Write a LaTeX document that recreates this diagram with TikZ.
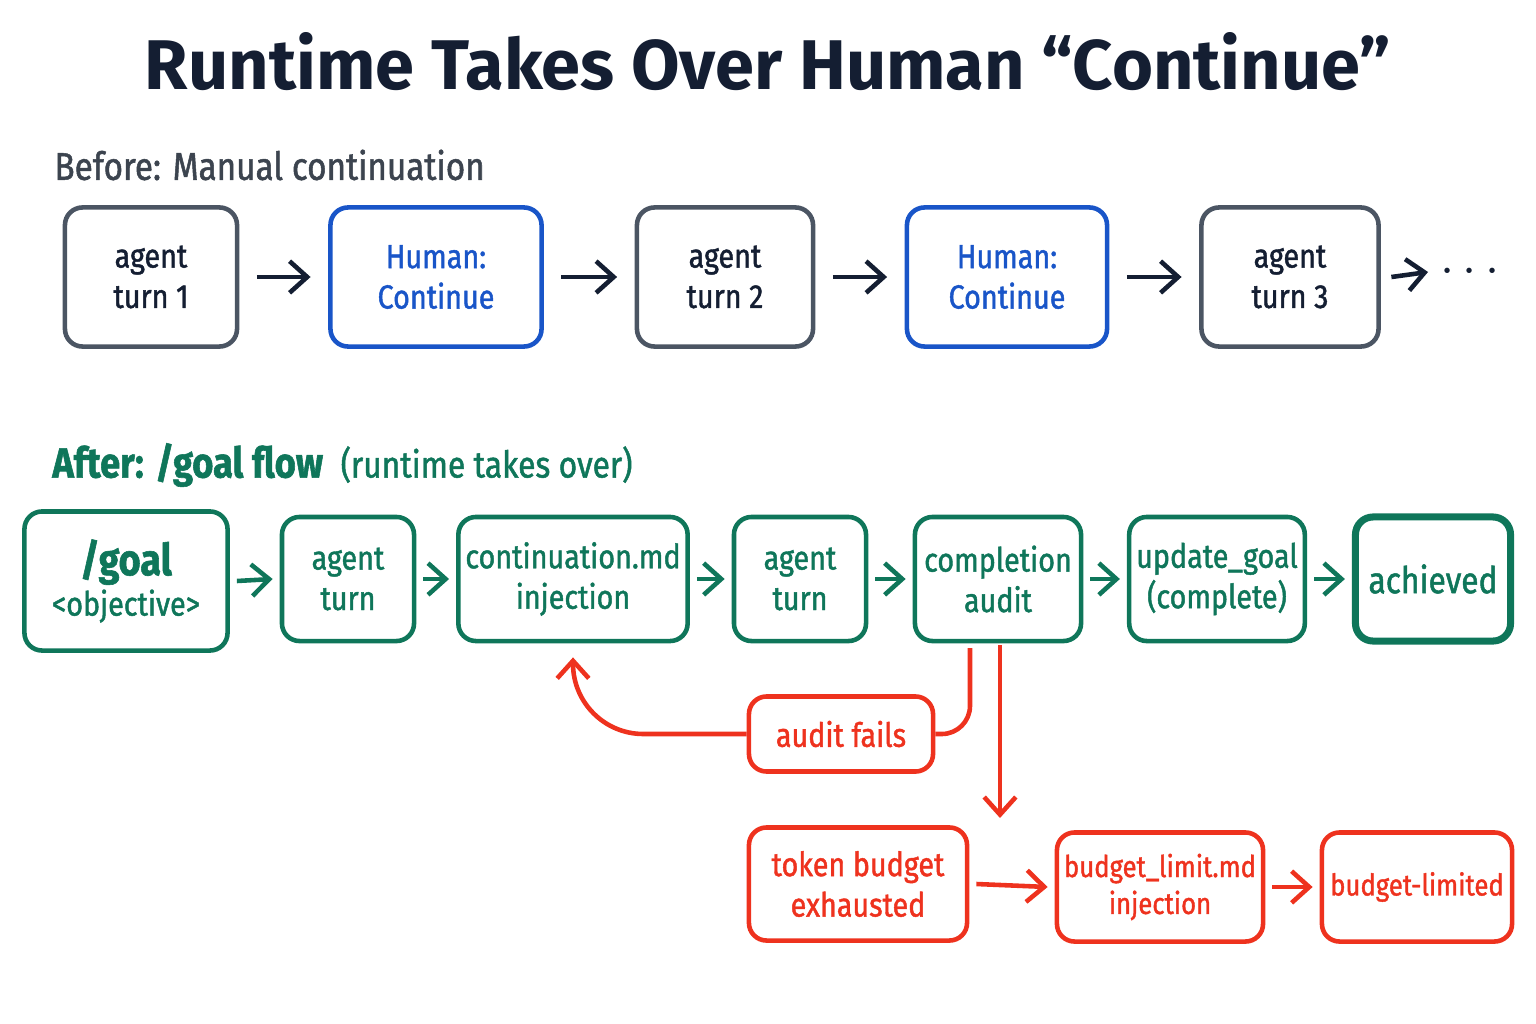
\documentclass[tikz,border=0pt]{standalone}
\usepackage{fontspec}
\setmainfont{Fira Sans}[FakeStretch=0.86, FakeBold=1.3]
\newfontfamily\titlefont{Fira Sans}
\usetikzlibrary{arrows.meta, positioning}
\definecolor{navyTitle}{RGB}{20, 30, 50}
\definecolor{plainGray}{RGB}{75, 85, 99}
\definecolor{humanBlue}{RGB}{25, 85, 200}
\definecolor{goalGreen}{RGB}{15, 118, 90}
\definecolor{failRed}{RGB}{238, 50, 30}
\begin{document}
\begin{tikzpicture}[x=0.01cm, y=-0.01cm,
    every node/.style={font=\fontsize{9.5}{11.5}\selectfont},
    box/.style={rectangle, rounded corners=5pt, draw=#1, line width=1.3pt, align=center, text=#1, inner sep=2pt},
    flow/.style={->, >={Straight Barb[length=5pt, width=9pt]}, line width=1.3pt, draw=#1},
]
\useasboundingbox (0,0) rectangle (1536,1024);
% TITLE
\node[font=\titlefont\fontsize{20}{22}\selectfont\bfseries, text=navyTitle] (title) at (768, 62) {Runtime Takes Over Human “Continue”};
% BEFORE
\node[anchor=west, font=\fontsize{11}{12}\selectfont, text=plainGray!80!black] (before) at (42, 165) {Before: Manual continuation};
\node[box=plainGray, minimum width=1.72cm, minimum height=1.39cm, text=navyTitle] (turn1) at (151, 277) {agent\\turn 1};
\node[box=humanBlue, minimum width=2.11cm, minimum height=1.39cm] (human1) at (436, 277) {Human:\\Continue};
\node[box=plainGray, minimum width=1.76cm, minimum height=1.39cm, text=navyTitle] (turn2) at (725, 277) {agent\\turn 2};
\node[box=humanBlue, minimum width=2.00cm, minimum height=1.39cm] (human2) at (1007, 277) {Human:\\Continue};
\node[box=plainGray, minimum width=1.77cm, minimum height=1.39cm, text=navyTitle] (turn3) at (1290, 277) {agent\\turn 3};
\node[font=\fontsize{14}{14}\selectfont\bfseries, text=navyTitle] (dots) at (1470, 272) {$\cdots$};
\draw[flow=navyTitle] ([xshift=5pt]turn1.east) -- ([xshift=-5pt]human1.west);
\draw[flow=navyTitle] ([xshift=5pt]human1.east) -- ([xshift=-5pt]turn2.west);
\draw[flow=navyTitle] ([xshift=5pt]turn2.east) -- ([xshift=-5pt]human2.west);
\draw[flow=navyTitle] ([xshift=5pt]human2.east) -- ([xshift=-5pt]turn3.west);
\draw[flow=navyTitle] ([xshift=3pt]turn3.east) -- (dots.west);
% AFTER
\node[anchor=west, font=\fontsize{11}{12}\selectfont, text=goalGreen] (after) at (40, 465) {{\fontsize{12}{14}\selectfont\bfseries After: /goal flow}\ \ \fontsize{10.5}{12}\selectfont(runtime takes over)};
\node[box=goalGreen, minimum width=2.03cm, minimum height=1.39cm] (goal) at (126, 581) {{\fontsize{12.5}{14}\selectfont\bfseries /goal}\\<objective>};
\node[box=goalGreen, minimum width=1.32cm, minimum height=1.24cm] (agentA) at (348, 579) {agent\\turn};
\node[box=goalGreen, minimum width=2.23cm, minimum height=1.24cm] (contmd) at (573, 579) {continuation.md\\injection};
\node[box=goalGreen, minimum width=1.32cm, minimum height=1.24cm] (agentB) at (800, 579) {agent\\turn};
\node[box=goalGreen, minimum width=1.66cm, minimum height=1.24cm] (audit) at (998, 579) {completion\\audit};
\node[box=goalGreen, minimum width=1.72cm, minimum height=1.24cm] (update) at (1217, 579) {update\_goal\\(complete)};
\node[box=goalGreen, line width=2pt, minimum width=1.55cm, minimum height=1.24cm, font=\fontsize{10.5}{12}\selectfont] (achieved) at (1433, 579) {achieved};
\draw[flow=goalGreen] ([xshift=2pt]goal.east) -- ([xshift=-2pt]agentA.west);
\draw[flow=goalGreen] ([xshift=2pt]agentA.east) -- ([xshift=-2pt]contmd.west);
\draw[flow=goalGreen] ([xshift=2pt]contmd.east) -- ([xshift=-2pt]agentB.west);
\draw[flow=goalGreen] ([xshift=2pt]agentB.east) -- ([xshift=-2pt]audit.west);
\draw[flow=goalGreen] ([xshift=2pt]audit.east) -- ([xshift=-2pt]update.west);
\draw[flow=goalGreen] ([xshift=2pt]update.east) -- ([xshift=-2pt]achieved.west);
% FAILURE PATHS
\node[box=failRed, minimum width=1.84cm, minimum height=0.75cm] (fails) at (841, 734) {audit fails};
\node[box=failRed, minimum width=2.18cm, minimum height=1.13cm] (token) at (858, 884) {token budget\\exhausted};
\node[box=failRed, minimum width=2.06cm, minimum height=1.09cm, font=\fontsize{8.5}{10.5}\selectfont] (limitmd) at (1160, 887) {budget\_limit.md\\injection};
\node[box=failRed, minimum width=1.90cm, minimum height=1.09cm, font=\fontsize{8.5}{10.5}\selectfont] (limited) at (1417, 887) {budget-limited};
\coordinate (budgetend) at (1000, 818);
\draw[draw=failRed, line width=1.3pt, rounded corners=8pt] (970, 648) |- (fails.east);
\draw[flow=failRed, rounded corners=20pt] (fails.west) -| ([yshift=-4pt]contmd.south);
\draw[flow=failRed] (1000, 645) -- (budgetend);
\draw[flow=failRed] ([xshift=2pt]token.east) -- ([xshift=-2pt]limitmd.west);
\draw[flow=failRed] ([xshift=2pt]limitmd.east) -- ([xshift=-2pt]limited.west);
\end{tikzpicture}
\end{document}
